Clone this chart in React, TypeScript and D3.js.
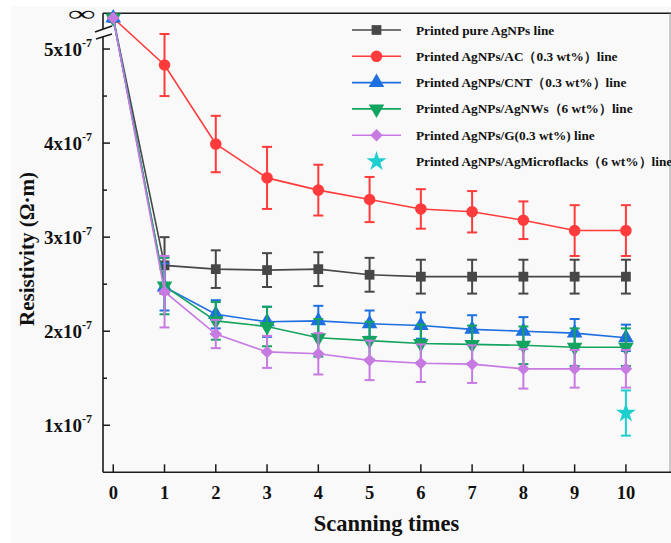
import React from "react";
import * as d3 from "d3";

const scans = [0, 1, 2, 3, 4, 5, 6, 7, 8, 9, 10];
const xTickLabels = ["0", "1", "2", "3", "4", "5", "6", "7", "8", "9", "10"];
const yTickValues = [1, 2, 3, 4, 5];
const yMinorTicks = [1.5, 2.5, 3.5, 4.5];

const seriesNames = [
  "Printed pure AgNPs line",
  "Printed AgNPs/AC\uFF080.3 wt%\uFF09line",
  "Printed AgNPs/CNT\uFF080.3 wt%\uFF09line",
  "Printed AgNPs/AgNWs\uFF086 wt%\uFF09line",
  "Printed AgNPs/G(0.3 wt%) line",
  "Printed AgNPs/AgMicroflacks\uFF086 wt%\uFF09line",
];

// values in units of 1e-7 Ω·m ; Infinity = "∞" at scan 0
const pureValues = [Infinity, 2.70, 2.66, 2.65, 2.66, 2.60, 2.58, 2.58, 2.58, 2.58, 2.58];
const pureErrors = [0, 0.30, 0.20, 0.18, 0.18, 0.18, 0.18, 0.18, 0.18, 0.18, 0.18];
const acValues = [Infinity, 4.83, 3.99, 3.63, 3.50, 3.40, 3.30, 3.27, 3.18, 3.07, 3.07];
const acErrors = [0, 0.33, 0.30, 0.33, 0.27, 0.24, 0.21, 0.22, 0.20, 0.27, 0.27];
const cntValues = [Infinity, 2.47, 2.18, 2.10, 2.11, 2.08, 2.06, 2.02, 2.00, 1.98, 1.93];
const cntErrors = [0, 0.25, 0.15, 0.16, 0.16, 0.14, 0.14, 0.15, 0.15, 0.15, 0.14];
const nwValues = [Infinity, 2.48, 2.11, 2.05, 1.93, 1.90, 1.87, 1.86, 1.85, 1.83, 1.83];
const nwErrors = [0, 0.30, 0.20, 0.21, 0.20, 0.20, 0.20, 0.20, 0.20, 0.20, 0.20];
const gValues = [Infinity, 2.42, 1.97, 1.78, 1.76, 1.69, 1.66, 1.65, 1.60, 1.60, 1.60];
const gErrors = [0, 0.38, 0.15, 0.17, 0.22, 0.21, 0.20, 0.20, 0.21, 0.20, 0.20];
const flackScans = [10];
const flackValues = [1.13];
const flackErrors = [0.24];

const colors = ["#474747", "#ff3b3b", "#1e70e0", "#13a45f", "#c77ae2", "#1ecfcf"];
const symbols = ["square", "circle", "triangle", "triangleDown", "diamond", "star"];

const W = 671;
const H = 543;
const left = 103;
const right = 670;
const top = 13.3;
const bottom = 472.3;
const infValue = 5.33; // where ∞ is drawn
const breakValue = 5.17;

const x = d3.scaleLinear().domain([-0.2, 10.86]).range([left, right]);
const y = d3.scaleLinear().domain([0.5, 5.38]).range([bottom, top]);
const yv = (v: number) => (isFinite(v) ? y(v) : y(infValue));

function Marker({ kind, cx, cy, color }: { kind: string; cx: number; cy: number; color: string }) {
  let path = "";
  let rot = 0;
  if (kind === "square") path = d3.symbol(d3.symbolSquare, 95)()!;
  else if (kind === "circle") path = d3.symbol(d3.symbolCircle, 105)()!;
  else if (kind === "triangle") path = d3.symbol(d3.symbolTriangle, 105)()!;
  else if (kind === "triangleDown") {
    path = d3.symbol(d3.symbolTriangle, 105)()!;
    rot = 180;
  } else if (kind === "diamond") {
    path = d3.symbol(d3.symbolSquare, 78)()!;
    rot = 45;
  } else if (kind === "star") path = d3.symbol(d3.symbolStar, 125)()!;
  return <path d={path} transform={`translate(${cx},${cy}) rotate(${rot})`} fill={color} />;
}

type Series = { xs: number[]; vals: number[]; errs: number[] };
const allSeries: Series[] = [
  { xs: scans, vals: pureValues, errs: pureErrors },
  { xs: scans, vals: acValues, errs: acErrors },
  { xs: scans, vals: cntValues, errs: cntErrors },
  { xs: scans, vals: nwValues, errs: nwErrors },
  { xs: scans, vals: gValues, errs: gErrors },
  { xs: flackScans, vals: flackValues, errs: flackErrors },
];

const font = "'Liberation Serif', 'Times New Roman', serif";

export default function App() {
  return (
    <svg
      width={W}
      height={H}
      style={{ position: "absolute", left: 0, top: 0, fontFamily: font }}
    >
      <rect x={0} y={0} width={W} height={H} fill="#ffffff" />
      <rect x={11} y={6} width={W - 11} height={H - 6} fill="#f9f9f9" />

      {/* frame */}
      <line x1={left} x2={W} y1={top} y2={top} stroke="#1a1a1a" strokeWidth={1.6} />
      <line x1={right} x2={right} y1={top} y2={bottom} stroke="#9a9a9a" strokeWidth={1} />
      <line x1={left} x2={W} y1={bottom} y2={bottom} stroke="#1a1a1a" strokeWidth={1.6} />
      <line x1={left} x2={left} y1={top} y2={y(breakValue) - 4} stroke="#1a1a1a" strokeWidth={1.6} />
      <line x1={left} x2={left} y1={y(breakValue) + 3} y2={bottom} stroke="#1a1a1a" strokeWidth={1.6} />
      <line x1={left - 8} x2={left + 9} y1={y(breakValue) - 1} y2={y(breakValue) - 7} stroke="#1a1a1a" strokeWidth={1.6} />
      <line x1={left - 7} x2={left + 9} y1={y(breakValue) + 6} y2={y(breakValue) + 1} stroke="#1a1a1a" strokeWidth={1.6} />

      {/* y ticks */}
      {yTickValues.map((v) => (
        <g key={v}>
          <line x1={left} x2={left + 7} y1={y(v)} y2={y(v)} stroke="#1a1a1a" strokeWidth={1.5} />
          <text x={left - 11} y={y(v) + 6.5} textAnchor="end" fontSize={19} fontWeight="bold" fill="#111">
            {`${v}x10`}
            <tspan fontSize={12} dy={-9}>-7</tspan>
          </text>
        </g>
      ))}
      {yMinorTicks.map((v) => (
        <line key={v} x1={left} x2={left + 4} y1={y(v)} y2={y(v)} stroke="#1a1a1a" strokeWidth={1.5} />
      ))}
      <text
        x={68}
        y={y(infValue) + 3}
        fontSize={22}
        fontWeight="bold"
        fill="#111"
        textLength={27}
        lengthAdjust="spacingAndGlyphs"
      >
        ∞
      </text>

      {/* x ticks */}
      {scans.map((s, i) => (
        <g key={s}>
          <line x1={x(s)} x2={x(s)} y1={bottom} y2={bottom - 8} stroke="#1a1a1a" strokeWidth={1.5} />
          <text x={x(s)} y={bottom + 27} textAnchor="middle" fontSize={18.5} fontWeight="bold" fill="#111">
            {xTickLabels[i]}
          </text>
        </g>
      ))}

      <text x={(left + right) / 2} y={531} textAnchor="middle" fontSize={22.5} fontWeight="bold" fill="#111">
        Scanning times
      </text>
      <text
        transform={`translate(34, 249) rotate(-90)`}
        textAnchor="middle"
        fontSize={21}
        fontWeight="bold"
        fill="#111"
      >
        Resistivity (Ω·m)
      </text>

      {/* series */}
      {allSeries.map((s, k) => {
        const pts = s.xs.map((sx, i) => [x(sx), yv(s.vals[i])] as [number, number]);
        const path = d3.line()(pts);
        return (
          <g key={k}>
            {k < 5 && <path d={path!} fill="none" stroke={colors[k]} strokeWidth={1.6} />}
            {s.xs.map((sx, i) =>
              s.errs[i] > 0 ? (
                <g key={i} stroke={colors[k]} strokeWidth={2}>
                  <line x1={x(sx)} x2={x(sx)} y1={y(s.vals[i] + s.errs[i])} y2={y(s.vals[i] - s.errs[i])} />
                  <line x1={x(sx) - 5} x2={x(sx) + 5} y1={y(s.vals[i] + s.errs[i])} y2={y(s.vals[i] + s.errs[i])} />
                  <line x1={x(sx) - 5} x2={x(sx) + 5} y1={y(s.vals[i] - s.errs[i])} y2={y(s.vals[i] - s.errs[i])} />
                </g>
              ) : null
            )}
            {s.xs.map((sx, i) => (
              <Marker key={i} kind={symbols[k]} cx={x(sx)} cy={yv(s.vals[i])} color={colors[k]} />
            ))}
          </g>
        );
      })}

      {/* legend */}
      {seriesNames.map((name, k) => {
        const ly = 30 + k * 26.3;
        return (
          <g key={k}>
            {k < 5 && <line x1={352} x2={401} y1={ly} y2={ly} stroke={colors[k]} strokeWidth={1.6} />}
            <Marker kind={symbols[k]} cx={376.5} cy={ly} color={colors[k]} />
            <text x={416} y={ly + 4.5} fontSize={13.3} fontWeight="bold" fill="#111">
              {name}
            </text>
          </g>
        );
      })}
    </svg>
  );
}
